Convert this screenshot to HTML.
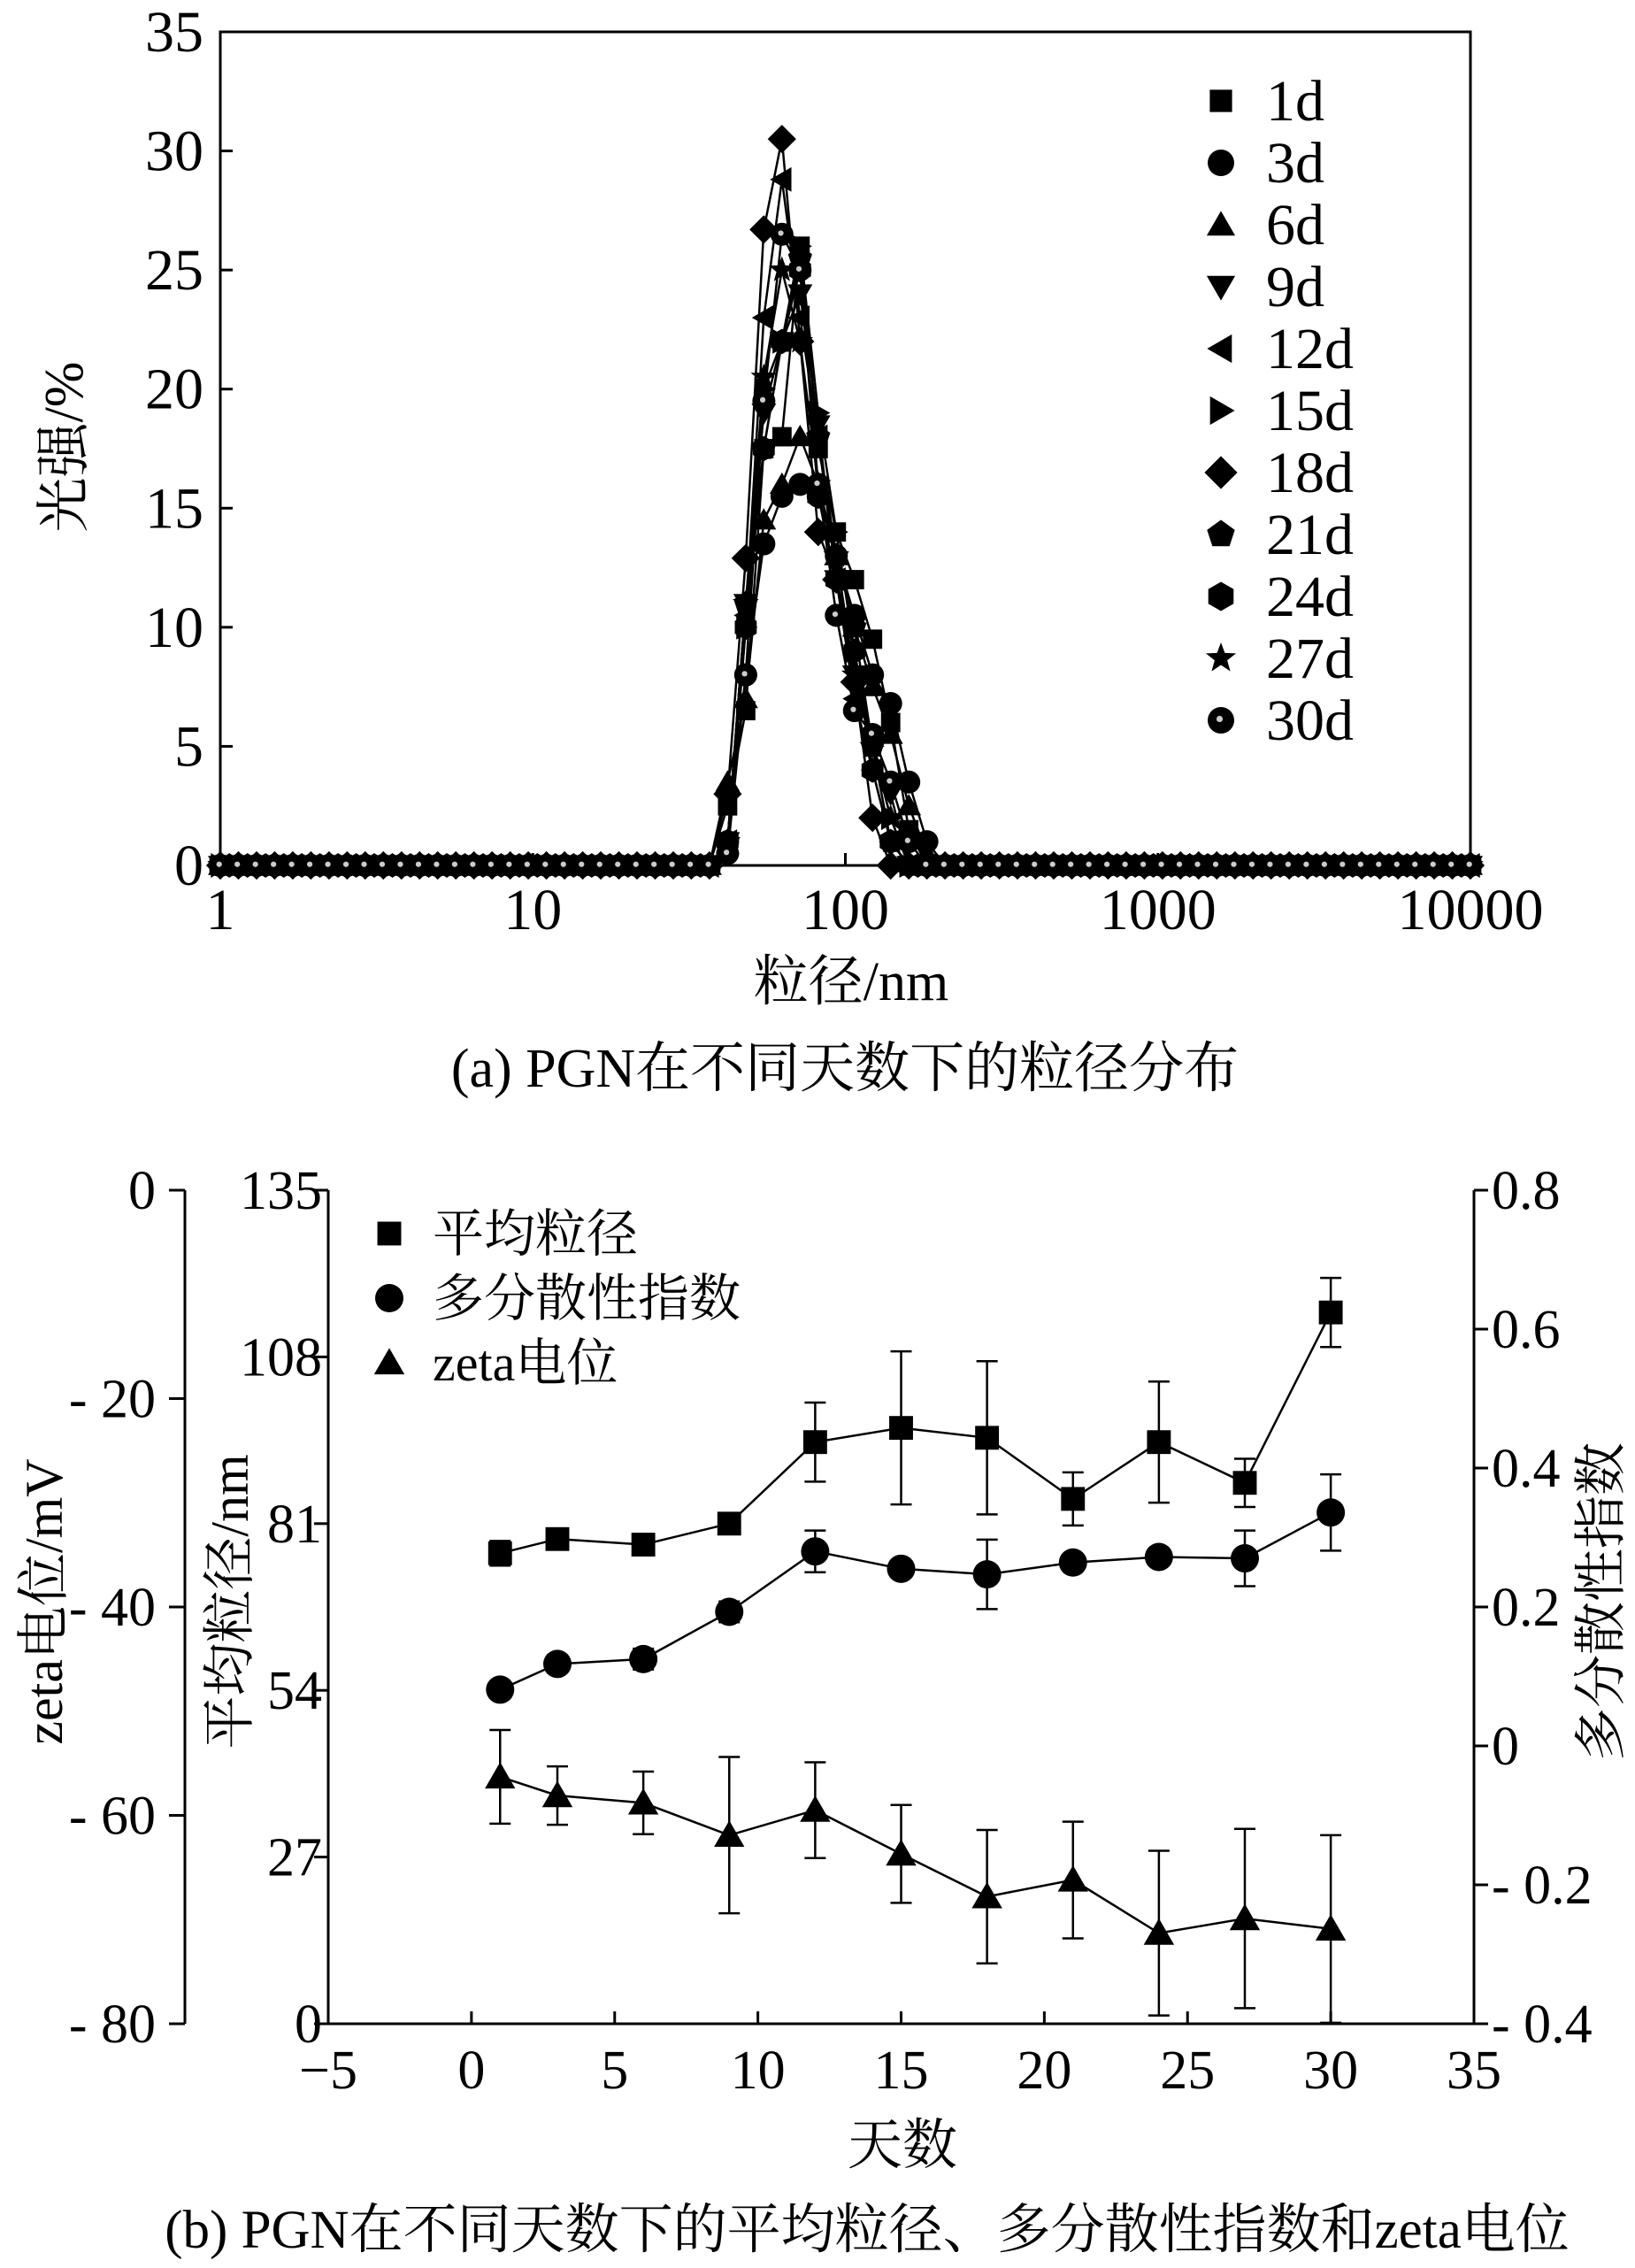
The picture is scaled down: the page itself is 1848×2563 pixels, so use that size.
<!DOCTYPE html>
<html><head><meta charset="utf-8"><style>
html,body{margin:0;padding:0;background:#fff}
svg text{font-family:"Liberation Serif","Noto Serif CJK SC",serif;fill:#000}
</style></head><body>
<svg id="fig" width="1848" height="2558" viewBox="0 0 1848 2558" xmlns="http://www.w3.org/2000/svg">
<g id="ga"></g>
<g id="gb"></g>
</svg>
<script>
// ---------- Chart (a) data ----------
const seriesNames = ["1d","3d","6d","9d","12d","15d","18d","21d","24d","27d","30d"];
const seriesMarkers = ["square","circle","tri-up","tri-down","tri-left","tri-right","diamond","pentagon","hexagon","star","dotcircle"];
const binCount = 70;
const peakStartBin = 27;
const s1d  = [0,2.5,6.5,17.5,18,26,17.5,14,12,9.5,6,1.5,0,0,0];
const s3d  = [0,1,8,13.5,15.5,16,15.5,13,10.5,8,6.8,3.5,1,0,0];
const s6d  = [0,3.5,7,14.5,16,18,16,13,10,7.5,5.5,2.5,0.5,0,0];
const s9d  = [0,1,11,19,22,24,18.5,12,8,5,3,0,0,0,0];
const s12d = [0,1,10.5,23,28.8,23,18,12,7,4,1,0,0,0,0];
const s15d = [0,0.5,10,20,22,26,19,14,9,5,2,0,0,0,0];
const s18d = [0,3,12.9,26.7,30.5,22,14,12,7.7,2,0,0,0,0,0];
const s21d = [0,1,11,17.5,22,25.5,18,13,10,5,1,0,0,0,0];
const s24d = [0,1,10,17.5,22,25,15.5,12,9,4,1,0,0,0,0];
const s27d = [0,1,11,20.5,25,22,16,13,8,5,2,0,0,0,0];
const s30d = [0,0.5,8,19.5,26.5,25,16,10.5,6.5,5.5,3.5,1,0,0,0];
const seriesPeaks = [s1d,s3d,s6d,s9d,s12d,s15d,s18d,s21d,s24d,s27d,s30d];
const aYTicks = [0,5,10,15,20,25,30,35];
const aXTicks = [1,10,100,1000,10000];

// ---------- Chart (b) data ----------
const days = [1,3,6,9,12,15,18,21,24,27,30];
const meanSize = [76.2,78.5,77.6,81,94.2,96.5,94.9,85,94.2,87.6,115.2];
const meanErr  = [2,1,1,1.5,6.4,12.4,12.4,4.3,9.8,3.9,5.6];
const pdi      = [0.081,0.118,0.125,0.193,0.28,0.255,0.247,0.264,0.272,0.27,0.336];
const pdiErr   = [0,0.01,0.015,0.015,0.03,0,0.05,0,0,0.04,0.055];
const zeta     = [-56.3,-58.1,-58.8,-61.9,-59.5,-63.7,-67.8,-66.2,-71.3,-69.9,-70.9];
const zetaErr  = [4.5,2.8,3,7.5,4.6,4.7,6.4,5.6,7.9,8.6,9];
const bXTicks = [-5,0,5,10,15,20,25,30,35];
const meanTicks = [0,27,54,81,108,135];
const zetaTicks = [0,-20,-40,-60,-80];
const zetaTickLabels = ["0","- 20","- 40","- 60","- 80"];
const pdiTicks = [0.8,0.6,0.4,0.2,0,-0.2,-0.4];
const pdiTickLabels = ["0.8","0.6","0.4","0.2","0","- 0.2","- 0.4"];

const NS="http://www.w3.org/2000/svg";
function el(parent,tag,attrs,text){const e=document.createElementNS(NS,tag);for(const k in attrs)e.setAttribute(k,attrs[k]);if(text!==undefined)e.textContent=text;parent.appendChild(e);return e;}
function polyPts(cx,cy,r,n,rot){let p=[];for(let i=0;i<n;i++){const a=rot+i*2*Math.PI/n;p.push((cx+r*Math.cos(a)).toFixed(1)+","+(cy+r*Math.sin(a)).toFixed(1));}return p.join(" ");}
function marker(g,type,cx,cy,s){
  let m;
  if(type==="square") m=el(g,"rect",{x:cx-s*0.42,y:cy-s*0.42,width:s*0.84,height:s*0.84});
  else if(type==="circle") m=el(g,"circle",{cx:cx,cy:cy,r:s*0.5});
  else if(type==="dotcircle"){m=el(g,"circle",{cx:cx,cy:cy,r:s*0.5});el(g,"circle",{cx:cx-s*0.05,cy:cy-s*0.05,r:s*0.12,fill:"#ccc"});}
  else if(type==="tri-up") m=el(g,"polygon",{points:polyPts(cx,cy+s*0.1,s*0.62,3,-Math.PI/2)});
  else if(type==="tri-down") m=el(g,"polygon",{points:polyPts(cx,cy-s*0.1,s*0.62,3,Math.PI/2)});
  else if(type==="tri-left") m=el(g,"polygon",{points:polyPts(cx+s*0.1,cy,s*0.62,3,Math.PI)});
  else if(type==="tri-right") m=el(g,"polygon",{points:polyPts(cx-s*0.1,cy,s*0.62,3,0)});
  else if(type==="diamond") m=el(g,"polygon",{points:polyPts(cx,cy,s*0.62,4,0)});
  else if(type==="pentagon") m=el(g,"polygon",{points:polyPts(cx,cy,s*0.55,5,-Math.PI/2)});
  else if(type==="hexagon") m=el(g,"polygon",{points:polyPts(cx,cy,s*0.55,6,Math.PI/2)});
  else if(type==="star"){let p=[];for(let i=0;i<10;i++){const r=i%2?s*0.25:s*0.6;const a=-Math.PI/2+i*Math.PI/5;p.push((cx+r*Math.cos(a)).toFixed(1)+","+(cy+r*Math.sin(a)).toFixed(1));}m=el(g,"polygon",{points:p.join(" ")});}
  return m;
}

// ---------- Draw chart (a) ----------
(function(){
const g=document.getElementById('ga');
const L=249,R=1662,T=36,B=978;
const xA=v=>L+(Math.log10(v)/4)*(R-L);
const yA=v=>B-(v/35)*(B-T);
const binSize=i=>Math.pow(10,4*i/(binCount-1));
const frame=el(g,"rect",{x:L,y:T,width:R-L,height:B-T,fill:"none",stroke:"#000","stroke-width":3});


aYTicks.forEach(t=>{
  el(g,"line",{x1:L,x2:L+14,y1:yA(t),y2:yA(t),stroke:"#000","stroke-width":3});
  const tx=el(g,"text",{x:230,y:yA(t)+22,"text-anchor":"end","font-size":66},String(t));
  
  
});
aXTicks.forEach(t=>{
  el(g,"line",{x1:xA(t),x2:xA(t),y1:B,y2:B-14,stroke:"#000","stroke-width":3});
  const tx=el(g,"text",{x:xA(t),y:1050,"text-anchor":"middle","font-size":66},String(t));
  
  
});
const xt=el(g,"text",{x:962,y:1130,"text-anchor":"middle","font-size":62},"粒径/nm");


const yt=el(g,"text",{x:0,y:0,"text-anchor":"middle","font-size":62,transform:"translate(93,505) rotate(-90)"},"光强/%");


const cap=el(g,"text",{x:955,y:1228,"text-anchor":"middle","font-size":62},"(a) PGN在不同天数下的粒径分布");


seriesPeaks.forEach((pk,si)=>{
  const sg=el(g,"g",{});
  
  
  const vals=[];
  for(let i=0;i<binCount;i++){const j=i-peakStartBin;vals.push(j>=0&&j<pk.length?pk[j]:0);}
  el(sg,"polyline",{points:vals.map((v,i)=>xA(binSize(i)).toFixed(1)+","+yA(v).toFixed(1)).join(" "),fill:"none",stroke:"#000","stroke-width":2.5});
  vals.forEach((v,i)=>{marker(sg,seriesMarkers[si],xA(binSize(i)),yA(v),26);});
});
seriesNames.forEach((n,i)=>{
  const lg=el(g,"g",{});
  
  
  const y=114+i*70;
  marker(lg,seriesMarkers[i],1380,y,30);
  el(lg,"text",{x:1431,y:y+22,"font-size":66},n);
});
})();

// ---------- Draw chart (b) ----------
(function(){
const g=document.getElementById('gb');
const L=371,R=1666,T=1345,B=2287,ZX=209;
const xB=d=>L+(d+5)/40*(R-L);
const yM=v=>B-v/135*(B-T);
const yP=v=>B-(v+0.4)/1.2*(B-T);
const yZ=v=>T+(-v)/80*(B-T);
const ax=(x1,y1,x2,y2,name)=>{const l=el(g,"line",{x1,y1,x2,y2,stroke:"#000","stroke-width":3});};
ax(L,T,L,B,'mean-size-axis');
ax(R,T,R,B,'pdi-axis');
ax(L,B,R,B,'x-axis-b');
ax(ZX,T,ZX,B,'zeta-axis');
bXTicks.forEach(t=>{
  el(g,"line",{x1:xB(t),x2:xB(t),y1:B,y2:B-14,stroke:"#000","stroke-width":3});
  const tx=el(g,"text",{x:xB(t),y:2360,"text-anchor":"middle","font-size":62},t<0?"−"+Math.abs(t):String(t));
  
  
});
meanTicks.forEach(t=>{
  el(g,"line",{x1:L-16,x2:L,y1:yM(t),y2:yM(t),stroke:"#000","stroke-width":3});
  const tx=el(g,"text",{x:364,y:yM(t)+21,"text-anchor":"end","font-size":62},String(t));
  
  
});
zetaTicks.forEach((t,i)=>{
  el(g,"line",{x1:ZX-18,x2:ZX,y1:yZ(t),y2:yZ(t),stroke:"#000","stroke-width":3});
  const tx=el(g,"text",{x:176,y:yZ(t)+21,"text-anchor":"end","font-size":62},zetaTickLabels[i]);
  
  
});
pdiTicks.forEach((t,i)=>{
  el(g,"line",{x1:R,x2:R+16,y1:yP(t),y2:yP(t),stroke:"#000","stroke-width":3});
  const tx=el(g,"text",{x:1686,y:yP(t)+21,"text-anchor":"start","font-size":62},pdiTickLabels[i]);
  
  
});
const t1=el(g,"text",{x:0,y:0,"text-anchor":"middle","font-size":60,transform:"translate(70,1810) rotate(-90)"},"zeta电位/mV");


const t2=el(g,"text",{x:0,y:0,"text-anchor":"middle","font-size":60,transform:"translate(280,1810) rotate(-90)"},"平均粒径/nm");


const t3=el(g,"text",{x:0,y:0,"text-anchor":"middle","font-size":60,transform:"translate(1830,1810) rotate(-90)"},"多分散性指数");


const t4=el(g,"text",{x:1020,y:2445,"text-anchor":"middle","font-size":62},"天数");


const t5=el(g,"text",{x:980,y:2540,"text-anchor":"middle","font-size":61},"(b) PGN在不同天数下的平均粒径、多分散性指数和zeta电位");


function series(vals,errs,yf,mk,name){
  const sg=el(g,"g",{});
  
  
  el(sg,"polyline",{points:vals.map((v,i)=>xB(days[i]).toFixed(1)+","+yf(v).toFixed(1)).join(" "),fill:"none",stroke:"#000","stroke-width":2.5});
  vals.forEach((v,i)=>{
    const x=xB(days[i]);
    if(errs[i]>0){
      const y1=yf(v+errs[i]),y2=yf(v-errs[i]);
      el(sg,"line",{x1:x,x2:x,y1:y1,y2:y2,stroke:"#000","stroke-width":2.5});
      el(sg,"line",{x1:x-12,x2:x+12,y1:y1,y2:y1,stroke:"#000","stroke-width":2.5});
      el(sg,"line",{x1:x-12,x2:x+12,y1:y2,y2:y2,stroke:"#000","stroke-width":2.5});
    }
    marker(sg,mk,x,yf(v),32);
  });
}
series(meanSize,meanErr,yM,"square","mean-size-series");
series(pdi,pdiErr,yP,"circle","pdi-series");
series(zeta,zetaErr,yZ,"tri-up","zeta-series");
const leg=[["square","平均粒径"],["circle","多分散性指数"],["tri-up","zeta电位"]];
leg.forEach((l,i)=>{
  const lg=el(g,"g",{});
  
  
  const y=1394+i*73;
  marker(lg,l[0],440,y,32);
  el(lg,"text",{x:489,y:y+20,"font-size":58},l[1]);
});
})();
</script>
</body></html>
